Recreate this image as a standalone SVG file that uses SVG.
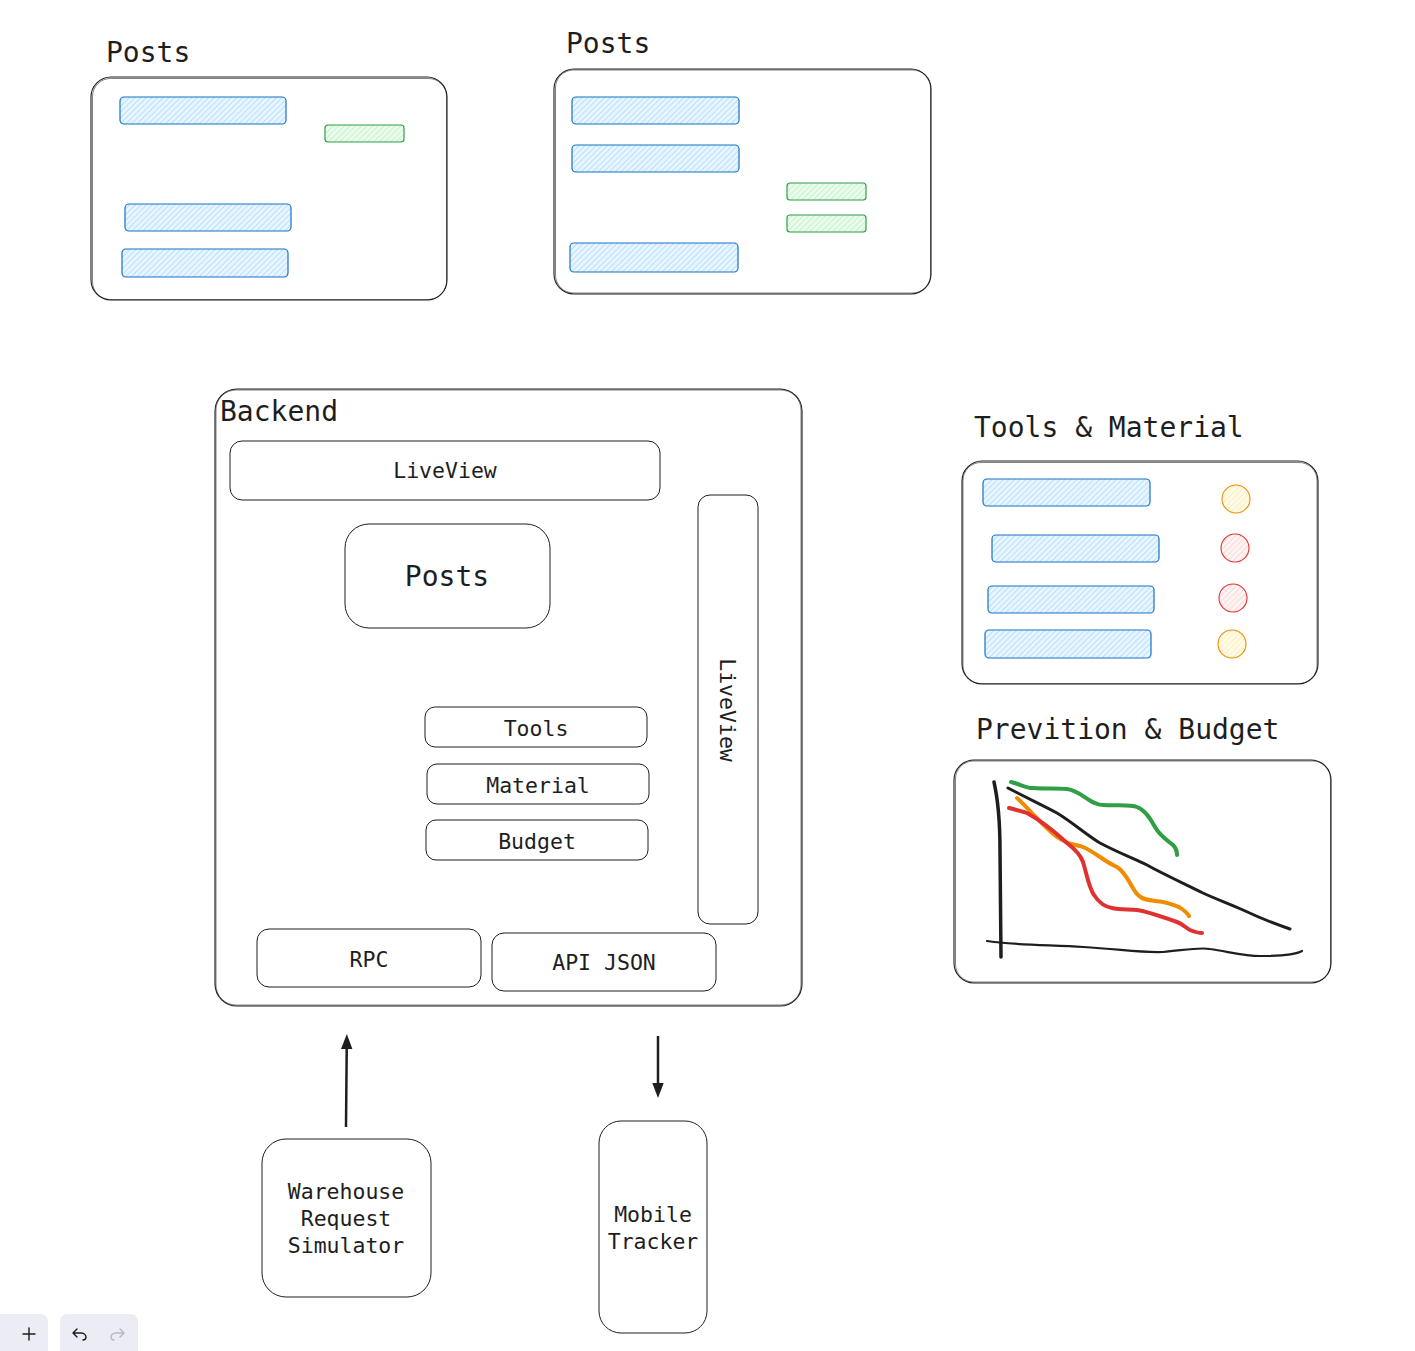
<svg xmlns="http://www.w3.org/2000/svg" width="1415" height="1351" viewBox="0 0 1415 1351">
  <style>
    .t { font-family: "DejaVu Sans Mono", "Liberation Mono", monospace; fill: #1e1e1e; }
    .big { font-size: 28px; }
    .small { font-size: 21.5px; }
    .mid { text-anchor: middle; }
    .frame { fill: none; stroke: #1e1e1e; stroke-width: 1.1; }
    .frame2 { fill: none; stroke: #1e1e1e; stroke-width: 0.8; opacity: 0.7; }
    .box { fill: none; stroke: #1e1e1e; stroke-width: 1; }
    .bar-b { fill: url(#hatchBlue); stroke: #1971c2; stroke-width: 1.2; }
    .bar-g { fill: url(#hatchGreen); stroke: #2f9e44; stroke-width: 1.2; }
    .dot-o { fill: url(#hatchOrange); stroke: #f08c00; stroke-width: 1.1; }
    .dot-r { fill: url(#hatchRed); stroke: #e03131; stroke-width: 1.1; }
    .curve { fill: none; stroke-linecap: round; stroke-linejoin: round; }
    .conn { stroke: #1e1e1e; stroke-width: 2.5; fill: none; }
    .btn { fill: #ececf4; }
    .icon { fill: none; stroke: #1b1b1f; stroke-width: 1.4; stroke-linecap: round; stroke-linejoin: round; }
    .icon.off { stroke: #b8b8c4; }
  </style>
  <defs>
    <pattern id="hatchBlue" width="4" height="4" patternUnits="userSpaceOnUse" patternTransform="rotate(45)">
      <rect width="4" height="4" fill="#e7f5ff"/>
      <line x1="0" y1="0" x2="0" y2="4" stroke="#a5d8ff" stroke-width="1.4"/>
    </pattern>
    <pattern id="hatchGreen" width="4" height="4" patternUnits="userSpaceOnUse" patternTransform="rotate(45)">
      <rect width="4" height="4" fill="#ebfbee"/>
      <line x1="0" y1="0" x2="0" y2="4" stroke="#b2f2bb" stroke-width="1.4"/>
    </pattern>
    <pattern id="hatchOrange" width="4" height="4" patternUnits="userSpaceOnUse" patternTransform="rotate(45)">
      <rect width="4" height="4" fill="#fffbeb"/>
      <line x1="0" y1="0" x2="0" y2="4" stroke="#ffec99" stroke-width="1.4"/>
    </pattern>
    <pattern id="hatchRed" width="4" height="4" patternUnits="userSpaceOnUse" patternTransform="rotate(45)">
      <rect width="4" height="4" fill="#fff5f5"/>
      <line x1="0" y1="0" x2="0" y2="4" stroke="#ffc9c9" stroke-width="1.4"/>
    </pattern>
    <marker id="arrow" viewBox="0 0 10 10" refX="6" refY="5" markerWidth="6" markerHeight="6" orient="auto-start-reverse" markerUnits="strokeWidth">
      <path d="M0,1.2 L10,5 L0,8.8 Z" fill="#1e1e1e"/>
    </marker>
  </defs>

  <!-- Posts mockup (left) -->
  <g id="posts-mock-1">
    <text class="t big" x="106" y="62">Posts</text>
    <rect class="frame" x="91" y="77" width="356" height="223" rx="20"/>
    <rect class="frame2" x="92.5" y="78.5" width="354" height="221" rx="18"/>
    <rect class="bar-b" x="120" y="97" width="166" height="27" rx="4"/>
    <rect class="bar-g" x="325" y="125" width="79" height="17" rx="3"/>
    <rect class="bar-b" x="125" y="204" width="166" height="27" rx="4"/>
    <rect class="bar-b" x="122" y="249" width="166" height="28" rx="4"/>
  </g>

  <!-- Posts mockup (right) -->
  <g id="posts-mock-2">
    <text class="t big" x="566" y="53">Posts</text>
    <rect class="frame" x="554" y="69" width="377" height="225" rx="20"/>
    <rect class="frame2" x="555.5" y="70" width="375" height="223" rx="18"/>
    <rect class="bar-b" x="572" y="97" width="167" height="27" rx="4"/>
    <rect class="bar-b" x="572" y="145" width="167" height="27" rx="4"/>
    <rect class="bar-g" x="787" y="183" width="79" height="17" rx="3"/>
    <rect class="bar-g" x="787" y="215" width="79" height="17" rx="3"/>
    <rect class="bar-b" x="570" y="243" width="168" height="29" rx="4"/>
  </g>

  <!-- Backend container -->
  <g id="backend">
    <rect class="frame" x="215" y="389" width="587" height="617" rx="22"/>
    <rect class="frame2" x="216" y="390" width="585" height="615" rx="20"/>
    <text class="t big" x="220" y="421">Backend</text>
  </g>

  <g id="liveview-top">
    <rect class="box" x="230" y="441" width="430" height="59" rx="12"/>
    <text class="t small mid" x="445" y="478">LiveView</text>
  </g>

  <g id="posts-core">
    <rect class="box" x="345" y="524" width="205" height="104" rx="24"/>
    <text class="t big mid" x="447" y="586">Posts</text>
  </g>

  <g id="liveview-side">
    <rect class="box" x="698" y="495" width="60" height="429" rx="12"/>
    <text class="t small mid" transform="translate(719.5,710) rotate(90)" x="0" y="0">LiveView</text>
  </g>

  <g id="tools">
    <rect class="box" x="425" y="707" width="222" height="40" rx="10"/>
    <text class="t small mid" x="536" y="736">Tools</text>
  </g>

  <g id="material">
    <rect class="box" x="427" y="764" width="222" height="40" rx="10"/>
    <text class="t small mid" x="538" y="793">Material</text>
  </g>

  <g id="budget">
    <rect class="box" x="426" y="820" width="222" height="40" rx="10"/>
    <text class="t small mid" x="537" y="849">Budget</text>
  </g>

  <g id="rpc">
    <rect class="box" x="257" y="929" width="224" height="58" rx="12"/>
    <text class="t small mid" x="369" y="967">RPC</text>
  </g>

  <g id="api-json">
    <rect class="box" x="492" y="933" width="224" height="58" rx="12"/>
    <text class="t small mid" x="604" y="970">API JSON</text>
  </g>

  <g id="warehouse-sim">
    <rect class="box" x="262" y="1139" width="169" height="158" rx="24"/>
    <text class="t small mid" x="346" y="1199">Warehouse</text>
    <text class="t small mid" x="346" y="1226">Request</text>
    <text class="t small mid" x="346" y="1253">Simulator</text>
  </g>

  <g id="mobile-tracker">
    <rect class="box" x="599" y="1121" width="108" height="212" rx="22"/>
    <text class="t small mid" x="653" y="1222">Mobile</text>
    <text class="t small mid" x="653" y="1249">Tracker</text>
  </g>

  <!-- connectors -->
  <g id="connectors">
    <line class="conn" x1="346" y1="1127" x2="346.8" y2="1040" marker-end="url(#arrow)"/>
    <line class="conn" x1="658" y1="1036" x2="658" y2="1092" marker-end="url(#arrow)"/>
  </g>

  <!-- Tools & Material mockup -->
  <g id="tools-material-mock">
    <text class="t big" x="974" y="437">Tools &amp; Material</text>
    <rect class="frame" x="962" y="461" width="356" height="223" rx="20"/>
    <rect class="frame2" x="963" y="462.5" width="354" height="221" rx="18"/>
    <rect class="bar-b" x="983" y="479" width="167" height="27" rx="4"/>
    <rect class="bar-b" x="992" y="535" width="167" height="27" rx="4"/>
    <rect class="bar-b" x="988" y="586" width="166" height="27" rx="4"/>
    <rect class="bar-b" x="985" y="630" width="166" height="28" rx="4"/>
    <circle class="dot-o" cx="1236" cy="499" r="14"/>
    <circle class="dot-r" cx="1235" cy="548" r="14"/>
    <circle class="dot-r" cx="1233" cy="598" r="14"/>
    <circle class="dot-o" cx="1232" cy="644" r="14"/>
  </g>

  <!-- Prevision & Budget chart -->
  <g id="prevition-budget-mock">
    <text class="t big" x="976" y="739">Prevition &amp; Budget</text>
    <rect class="frame" x="954" y="760" width="377" height="223" rx="20"/>
    <rect class="frame2" x="955.5" y="761" width="375" height="221" rx="18"/>
    <!-- axes -->
    <path class="curve" stroke="#1e1e1e" stroke-width="3.5" d="M994,782 C998,800 1000,820 1000,850 L1001,957"/>
    <path class="curve" stroke="#1e1e1e" stroke-width="2.2" d="M987,941 C1010,945 1050,945 1083,947 C1120,949 1140,953 1163,952 C1185,950 1200,947 1210,949 C1230,952 1245,956 1260,956 C1280,956 1295,955 1302,951"/>
    <!-- budget line -->
    <path class="curve" stroke="#1e1e1e" stroke-width="3" d="M1008,788 C1025,797 1042,805 1057,813 C1072,822 1088,836 1100,843 C1115,851 1132,858 1147,865 C1165,875 1185,884 1203,893 C1218,900 1230,904 1243,910 C1260,918 1275,924 1290,929"/>
    <!-- green -->
    <path class="curve" stroke="#2f9e44" stroke-width="4" d="M1011,782 C1020,784 1025,788 1033,788 C1045,789 1057,788 1067,789 C1082,791 1090,805 1103,805 C1115,806 1130,804 1137,807 C1145,810 1150,818 1155,827 C1160,836 1168,841 1173,845 C1177,849 1177,852 1177,855"/>
    <!-- orange -->
    <path class="curve" stroke="#f08c00" stroke-width="4" d="M1017,798 C1030,810 1045,828 1057,837 C1068,845 1075,844 1083,847 C1095,852 1105,862 1117,867 C1127,873 1131,888 1138,895 C1145,902 1155,900 1163,902 C1172,904 1178,906 1182,909 C1186,912 1188,914 1189,916"/>
    <!-- red -->
    <path class="curve" stroke="#e03131" stroke-width="4" d="M1009,808 C1016,810 1022,811 1027,813 C1040,820 1055,832 1067,843 C1076,850 1081,856 1083,862 C1087,875 1089,888 1094,895 C1100,904 1105,907 1112,908 C1120,910 1130,909 1137,910 C1150,912 1162,917 1177,922 C1183,924 1186,928 1190,930 C1195,932 1199,933 1202,933"/>
  </g>

  <!-- canvas controls -->
  <g id="toolbar">
    <rect class="btn" x="-8" y="1314" width="56" height="45" rx="7"/>
    <path class="icon" d="M23,1334 H35 M29,1328 V1340"/>
    <rect class="btn" x="60" y="1314" width="78" height="45" rx="7"/>
    <path class="icon" d="M77,1329 L73,1333 L77,1337 M73,1333 H81 C85,1333 86,1336 86,1337 C86,1339 85,1340 83,1340"/>
    <path class="icon off" d="M120,1329 L124,1333 L120,1337 M124,1333 H116 C112,1333 111,1336 111,1337 C111,1339 112,1340 114,1340"/>
  </g>
</svg>
